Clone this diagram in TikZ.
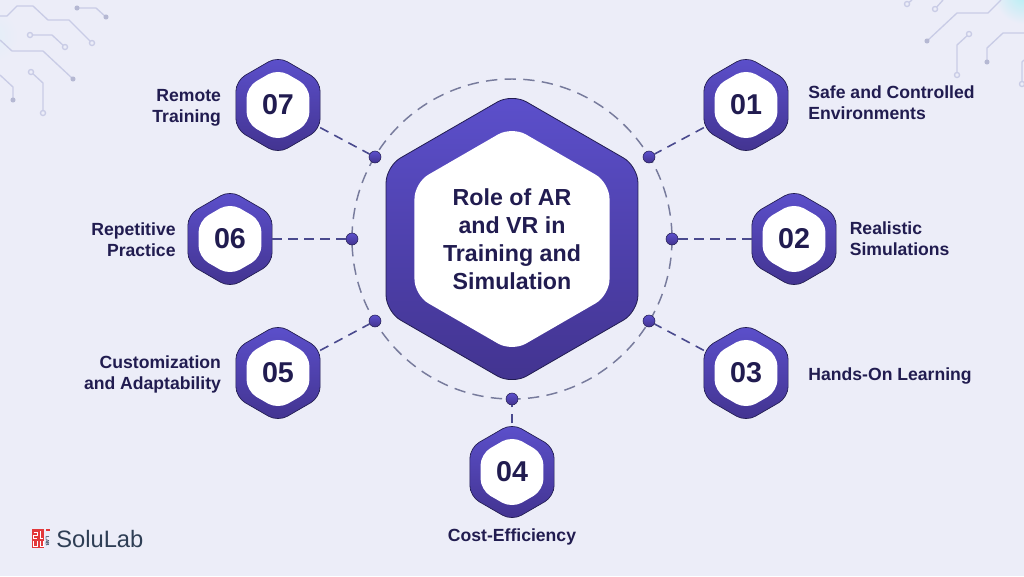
\documentclass[tikz,border=0pt]{standalone}
\usepackage{fontspec}
\setmainfont{Liberation Sans}
\usetikzlibrary{positioning,shapes.geometric}
\definecolor{pagebg}{HTML}{ECEDF8}
\definecolor{hextop}{HTML}{5C50CC}
\definecolor{hexbot}{HTML}{42338F}
\definecolor{inkdark}{HTML}{211C50}
\definecolor{ringgray}{HTML}{777B9C}
\definecolor{dashblue}{HTML}{4A4A8E}
\definecolor{traceblue}{HTML}{C9CCE6}
\definecolor{logored}{HTML}{E2383B}
\definecolor{logoslate}{HTML}{2E3E55}
\definecolor{glowteal}{HTML}{B4EEF4}
\definecolor{glowsoft}{HTML}{E3EEF8}
\tikzset{
  hexbase/.style={shape=regular polygon, regular polygon sides=6, regular polygon rotate=30, inner sep=0pt, outer sep=0pt},
  hexsmall/.style={hexbase, minimum size=73pt, rounded corners=8pt, top color=hextop, bottom color=hexbot, draw=inkdark, line width=0.5pt},
  hexwhite/.style={hexbase, minimum size=54.5pt, rounded corners=8.5pt, fill=white, text=inkdark, font=\bfseries\fontsize{21.5}{21.5}\selectfont},
  hexbig/.style={hexbase, minimum size=218.2pt, rounded corners=12.5pt, top color=hextop, bottom color=hexbot, draw=inkdark, line width=0.6pt},
  hexbigwhite/.style={hexbase, minimum size=167.2pt, rounded corners=12pt, fill=white, text=inkdark, align=center, font=\bfseries\fontsize{17.4}{21}\selectfont},
  dotnode/.style={circle, minimum size=9pt, inner sep=0pt, top color=hextop, bottom color=hexbot, draw=inkdark, line width=0.4pt},
  lblnode/.style={text=inkdark, inner sep=0pt, font=\bfseries\fontsize{13.2}{15.8}\selectfont},
  ringline/.style={draw=ringgray, line width=1.1pt, dash pattern=on 8.5pt off 5.5pt},
  linkline/.style={draw=dashblue, line width=1.2pt, dash pattern=on 7pt off 5pt},
  trace/.style={draw=traceblue, line width=1pt},
  tipopen/.style={circle, minimum size=3.8pt, inner sep=0pt, draw=traceblue, line width=1pt, fill=pagebg},
  tipfull/.style={circle, minimum size=3.8pt, inner sep=0pt, fill=traceblue!75!ringgray}
}
\begin{document}
\begin{tikzpicture}[x=0.75pt,y=-0.75pt]
  \useasboundingbox (0,0) rectangle (1024,576);
  \fill[pagebg] (0,0) rectangle (1024,576);
  \begin{scope}
    \clip (0,0) rectangle (1024,576);
    \shade[inner color=glowteal, outer color=pagebg] (1024,-6) circle (30);
    \shade[inner color=glowsoft, outer color=pagebg] (-8,36) circle (26);
  \end{scope}

  % corner traces, left
  \draw[trace] (0,16)--(7,16)--(17,6)--(33,6)--(48,20)--(69,20)--(92,43) node[tipopen] (tl1) {};
  \draw[trace] (77,8) node[tipfull] (tl2) {} --(96,8)--(106,17) node[tipfull] (tl3) {};
  \draw[trace] (30,35) node[tipopen] (tl4) {} --(52,35)--(65,47) node[tipopen] (tl5) {};
  \draw[trace] (0,40)--(12,51)--(43,51)--(73,79) node[tipfull] (tl6) {};
  \draw[trace] (0,75)--(13,87)--(13,100) node[tipfull] (tl7) {};
  \draw[trace] (31,72) node[tipopen] (tl8) {} --(43,83)--(43,113) node[tipopen] (tl9) {};
  % corner traces, right
  \draw[trace] (912,0)--(907,4) node[tipopen] (tr1) {};
  \draw[trace] (943,0)--(935,9) node[tipopen] (tr2) {};
  \draw[trace] (1001,0)--(988,13)--(957,13)--(927,41) node[tipfull] (tr3) {};
  \draw[trace] (969,34) node[tipopen] (tr4) {} --(957,45)--(957,75) node[tipopen] (tr5) {};
  \draw[trace] (1024,33)--(1003,33)--(987,48)--(987,62) node[tipfull] (tr6) {};
  \draw[trace] (1024,60)--(1022,62)--(1022,84) node[tipopen] (tr7) {};

  \coordinate (ringc) at (512,239);
  \draw[ringline] (ringc) circle (160);

  % centre
  \node[hexbig] (core) at (ringc) {};
  \node[hexbigwhite] (corew) at (ringc) {Role of AR\\and VR in\\Training and\\Simulation};

  % hexagons
  \node[hexsmall] (h1) at (746,105) {};
  \node[hexsmall] (h2) at (794,239) {};
  \node[hexsmall] (h3) at (746,373) {};
  \node[hexsmall] (h4) at (512,472) {};
  \node[hexsmall] (h5) at (278,373) {};
  \node[hexsmall] (h6) at (230,239) {};
  \node[hexsmall] (h7) at (278,105) {};
  \node[hexwhite] (n1) at (h1) {01};
  \node[hexwhite] (n2) at (h2) {02};
  \node[hexwhite] (n3) at (h3) {03};
  \node[hexwhite] (n4) at (h4) {04};
  \node[hexwhite] (n5) at (h5) {05};
  \node[hexwhite] (n6) at (h6) {06};
  \node[hexwhite] (n7) at (h7) {07};

  % dots on the ring
  \node[dotnode] (d1) at (649,157) {};
  \node[dotnode] (d2) at (672,239) {};
  \node[dotnode] (d3) at (649,321) {};
  \node[dotnode] (d4) at (512,399) {};
  \node[dotnode] (d5) at (375,321) {};
  \node[dotnode] (d6) at (352,239) {};
  \node[dotnode] (d7) at (375,157) {};

  \draw[linkline] (h1)--(d1);
  \draw[linkline] (d2)--(h2);
  \draw[linkline] (h3)--(d3);
  \draw[linkline] (h4)--(d4);
  \draw[linkline] (h5)--(d5);
  \draw[linkline] (d6)--(h6);
  \draw[linkline] (h7)--(d7);

  % labels
  \node[lblnode, align=left, right=15pt of h1, yshift=2pt] (t1) {Safe and Controlled\\Environments};
  \node[lblnode, align=left, right=10pt of h2] (t2) {Realistic\\Simulations};
  \node[lblnode, right=15pt of h3, yshift=-2.5pt] (t3) {Hands-On Learning};
  \node[lblnode, below=5.5pt of h4] (t4) {Cost-Efficiency};
  \node[lblnode, align=right, left=11pt of h5, yshift=-1.2pt] (t5) {Customization\\and Adaptability};
  \node[lblnode, align=right, left=9pt of h6, yshift=-0.5pt] (t6) {Repetitive\\Practice};
  \node[lblnode, align=right, left=11pt of h7, yshift=-2pt] (t7) {Remote\\Training};

  % logo
  \fill[logored] (32,529) rectangle (44,548);
  \fill[logored] (46,529) rectangle (50,531);
  \draw[white, line width=0.6pt] (33.5,532)--(37,532)--(37,535)--(33.5,535)--(33.5,538)--(37,538);
  \draw[white, line width=0.6pt] (40,531)--(40,538)--(43,538);
  \draw[white, line width=0.6pt] (33.5,541)--(33.5,546)--(37,546)--(37,541);
  \draw[white, line width=0.6pt] (40,541)--(40,546)--(43,546)--(43,541);
  \node[text=logoslate, inner sep=0pt, rotate=-90, font=\bfseries\fontsize{3.6}{3.6}\selectfont] (lab) at (47.5,541) {LAB};
  \node[text=logoslate, inner sep=0pt, anchor=west, font=\fontsize{17.8}{17.8}\selectfont] (brand) at (56,539) {SoluLab};
\end{tikzpicture}
\end{document}
